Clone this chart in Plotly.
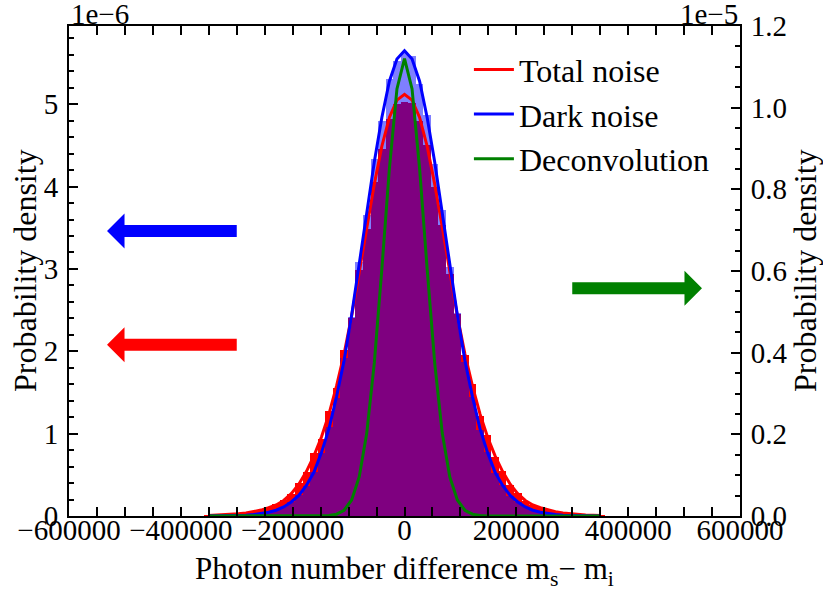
import plotly.graph_objects as go

# ---------------- data (left axis in units of 1e-6, right axis in units of 1e-5) ----------------
BIN_W = 13500
BIN_CENTERS = [-351000, -337500, -324000, -310500, -297000, -283500, -270000, -256500, -243000,
               -229500, -216000, -202500, -189000, -175500, -162000, -148500, -135000, -121500,
               -108000, -94500, -81000, -67500, -54000, -40500, -27000, -13500, 0, 13500, 27000,
               40500, 54000, 67500, 81000, 94500, 108000, 121500, 135000, 148500, 162000, 175500,
               189000, 202500, 216000, 229500, 243000, 256500, 270000, 283500, 297000, 310500,
               324000, 337500, 351000]

TOTAL_HIST = [0.004, 0.006, 0.010, 0.016, 0.024, 0.036, 0.050, 0.075, 0.098, 0.140, 0.195, 0.265,
              0.400, 0.530, 0.760, 0.940, 1.270, 1.560, 2.010, 2.400, 2.990, 3.480, 4.060, 4.460,
              4.820, 5.000, 5.030, 5.020, 4.800, 4.510, 4.000, 3.530, 2.940, 2.450, 1.950, 1.600,
              1.220, 0.980, 0.720, 0.550, 0.380, 0.280, 0.185, 0.138, 0.095, 0.070, 0.048, 0.035,
              0.025, 0.017, 0.011, 0.007, 0.004]

DARK_HIST = [0.001, 0.001, 0.002, 0.004, 0.006, 0.010, 0.018, 0.027, 0.046, 0.068, 0.112, 0.165,
             0.255, 0.360, 0.540, 0.760, 1.080, 1.430, 1.920, 2.420, 3.080, 3.650, 4.330, 4.800,
             5.310, 5.520, 5.640, 5.580, 5.250, 4.870, 4.280, 3.710, 3.020, 2.470, 1.870, 1.450,
             1.040, 0.780, 0.520, 0.375, 0.245, 0.172, 0.108, 0.072, 0.044, 0.029, 0.016, 0.011,
             0.006, 0.003, 0.002, 0.001, 0.0005]

TOTAL_FIT = [0.005, 0.008, 0.012, 0.018, 0.026, 0.037, 0.052, 0.072, 0.100, 0.134, 0.189, 0.272,
             0.386, 0.54, 0.73, 0.96, 1.24, 1.58, 1.97, 2.43, 2.96, 3.51, 4.03, 4.49, 4.84, 5.05,
             5.12, 5.05, 4.84, 4.49, 4.03, 3.51, 2.96, 2.43, 1.97, 1.58, 1.24, 0.96, 0.73, 0.54,
             0.386, 0.272, 0.189, 0.134, 0.100, 0.072, 0.052, 0.037, 0.026, 0.018, 0.012, 0.008,
             0.005]

DARK_FIT = [0.0005, 0.001, 0.002, 0.0035, 0.006, 0.010, 0.017, 0.028, 0.045, 0.07, 0.11, 0.17,
            0.25, 0.37, 0.53, 0.77, 1.06, 1.45, 1.89, 2.44, 3.05, 3.68, 4.30, 4.84, 5.28, 5.55,
            5.65, 5.55, 5.28, 4.84, 4.30, 3.68, 3.05, 2.44, 1.89, 1.45, 1.06, 0.77, 0.53, 0.37,
            0.25, 0.17, 0.11, 0.07, 0.045, 0.028, 0.017, 0.010, 0.006, 0.0035, 0.002, 0.001,
            0.0005]

DECONV = [0, 0, 0, 0, 0, 0, 0, 0, 0, 0, 0, 0, 0, 0, 0.0001, 0.0003, 0.0012, 0.0044, 0.0141,
          0.0392, 0.0955, 0.203, 0.375, 0.605, 0.851, 1.046, 1.12, 1.046, 0.851, 0.605, 0.375,
          0.203, 0.0955, 0.0392, 0.0141, 0.0044, 0.0012, 0.0003, 0.0001, 0, 0, 0, 0, 0, 0, 0, 0,
          0, 0, 0, 0, 0, 0]

SERIES_NAMES = ["Total noise", "Dark noise", "Deconvolution"]
X_TICKS = [-600000, -400000, -200000, 0, 200000, 400000, 600000]
X_TICKTEXT = ["\u2212600000", "\u2212400000", "\u2212200000", "0", "200000", "400000", "600000"]
X_RANGE = [-600000, 600000]
Y1_RANGE = [0, 5.95]
Y2_RANGE = [0, 1.2]

# arrows: (tail x, tip x, y value, axis, colour)
ARROWS = [(-300000, -532000, 3.46, "y", "#0000ff"),
          (-300000, -532000, 2.08, "y", "#ff0000"),
          (300000, 532000, 0.558, "y2", "#008000")]

# ---------------- layout constants ----------------
W, H = 823, 590
ML, MR, MT, MB = 69, 83, 26, 74
FONT = "Liberation Serif"
PW, PH = W - ML - MR, H - MT - MB

fig = go.Figure()

fig.add_trace(go.Bar(x=BIN_CENTERS, y=TOTAL_HIST, width=BIN_W, marker=dict(color="#ff0000", line=dict(width=0)),
                     showlegend=False, hoverinfo="skip"))
fig.add_trace(go.Bar(x=BIN_CENTERS, y=DARK_HIST, width=BIN_W,
                     marker=dict(color="rgba(0,0,255,0.5)", line=dict(width=0)),
                     showlegend=False, hoverinfo="skip"))

fig.add_trace(go.Scatter(x=BIN_CENTERS, y=TOTAL_FIT, mode="lines", name=SERIES_NAMES[0],
                         line=dict(color="#ff0000", width=3)))
fig.add_trace(go.Scatter(x=BIN_CENTERS, y=DARK_FIT, mode="lines", name=SERIES_NAMES[1],
                         line=dict(color="#0000ff", width=3)))
fig.add_trace(go.Scatter(x=BIN_CENTERS, y=DECONV, mode="lines", name=SERIES_NAMES[2],
                         line=dict(color="#008000", width=3), yaxis="y2"))

# arrows as filled paths
dx_px = (X_RANGE[1] - X_RANGE[0]) / PW
shapes = []
for tail, tip, yv, ax, col in ARROWS:
    rng = Y1_RANGE if ax == "y" else Y2_RANGE
    dy_px = (rng[1] - rng[0]) / PH
    d = 1 if tip > tail else -1
    base = tip - d * 17.5 * dx_px
    sh, hh = 6 * dy_px, 17.5 * dy_px
    pts = [(tail, yv + sh), (base, yv + sh), (base, yv + hh), (tip, yv), (base, yv - hh),
           (base, yv - sh), (tail, yv - sh)]
    path = "M" + " L".join(f"{px},{py}" for px, py in pts) + " Z"
    shapes.append(dict(type="path", path=path, xref="x", yref=ax, fillcolor=col,
                       line=dict(width=0), layer="above"))

tickfont = dict(family=FONT, size=29, color="black")
axis_common = dict(showgrid=False, zeroline=False, showline=True, linecolor="black", linewidth=2,
                   ticks="inside", ticklen=9, tickwidth=2, tickcolor="black", tickfont=tickfont,
                   automargin=False)

fig.update_layout(
    width=W, height=H, margin=dict(l=ML, r=MR, t=MT, b=MB),
    paper_bgcolor="white", plot_bgcolor="white",
    barmode="overlay", bargap=0,
    font=dict(family=FONT, size=29, color="black"),
    xaxis=dict(range=X_RANGE, tickmode="array", tickvals=X_TICKS, ticktext=X_TICKTEXT,
               mirror="allticks", ticklabelstandoff=-13,
               minor=dict(tick0=0, dtick=50000, ticks="inside", ticklen=5, tickwidth=1.5,
                          tickcolor="black"),
               **axis_common),
    yaxis=dict(range=Y1_RANGE, tickmode="linear", tick0=0, dtick=1, ticklabelstandoff=3,
               minor=dict(tick0=0, dtick=0.2, ticks="inside", ticklen=5, tickwidth=1.5,
                          tickcolor="black"),
               **axis_common),
    yaxis2=dict(range=Y2_RANGE, overlaying="y", side="right", tickmode="linear", tick0=0,
                dtick=0.2, tickformat=".1f", ticklabelstandoff=3,
                minor=dict(tick0=0, dtick=0.05, ticks="inside", ticklen=5, tickwidth=1.5,
                           tickcolor="black"),
                **axis_common),
    legend=dict(x=0.596, y=0.967, xanchor="left", yanchor="top", bgcolor="rgba(0,0,0,0)",
                itemwidth=40, font=dict(family=FONT, size=32, color="black")),
    shapes=shapes,
    annotations=[
        dict(text="1e\u22126", x=0, y=1, xref="paper", yref="paper", xanchor="left",
             yanchor="bottom", yshift=-6, showarrow=False, font=dict(family=FONT, size=29)),
        dict(text="1e\u22125", x=1, y=1, xref="paper", yref="paper", xanchor="right",
             yanchor="bottom", yshift=-6, showarrow=False, font=dict(family=FONT, size=29)),
        dict(text="Probability density", x=0, y=0.5, xref="paper", yref="paper",
             xanchor="center", yanchor="middle", textangle=-90, showarrow=False,
             xshift=25 - ML, font=dict(family=FONT, size=32)),
        dict(text="Probability density", x=1, y=0.5, xref="paper", yref="paper",
             xanchor="center", yanchor="middle", textangle=-90, showarrow=False,
             xshift=805 - (W - MR), font=dict(family=FONT, size=32)),
        dict(text="Photon number difference m<sub>s</sub>\u2212 m<sub>i</sub>", x=0.5, y=0,
             xref="paper", yref="paper", xanchor="center", yanchor="middle", showarrow=False,
             yshift=-(571 - (H - MB)), font=dict(family=FONT, size=31)),
    ],
)

fig.write_html("out.html")
